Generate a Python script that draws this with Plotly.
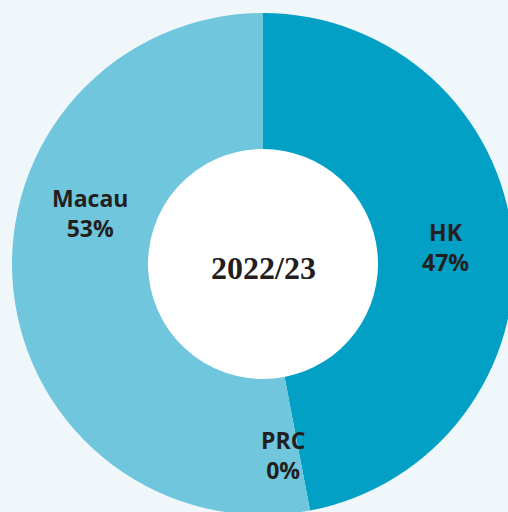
import plotly.graph_objects as go

labels = ["HK", "PRC", "Macau"]
values = [47, 0, 53]
colors = ["#03a0c6", "#03a0c6", "#6fc6dd"]
center_label = "2022/23"

W, H = 526, 528
CX, CY, R_OUT, R_IN = 263, 264, 251, 115
# label anchor positions in pixels (from top-left)
label_pos = {"HK": (445, 247), "PRC": (283, 455), "Macau": (90, 213)}

total = sum(values)
fig = go.Figure(go.Pie(
    labels=labels, values=values, hole=R_IN / R_OUT, sort=False,
    direction="clockwise", rotation=0, textinfo="none",
    marker=dict(colors=colors, line=dict(width=0)),
    domain=dict(x=[(CX - R_OUT) / W, (CX + R_OUT) / W],
                y=[1 - (CY + R_OUT) / H, 1 - (CY - R_OUT) / H]),
    showlegend=False, hoverinfo="label+percent",
))

anns = []
for lab, val in zip(labels, values):
    px, py = label_pos[lab]
    pct = round(100 * val / total)
    anns.append(dict(
        text=f"<b>{lab}</b><br><b>{pct}%</b>", x=px / W, y=1 - py / H,
        xref="paper", yref="paper", showarrow=False,
        xanchor="center", yanchor="middle",
        font=dict(family="Open Sans", size=23, color="#231f20"),
    ))
anns.append(dict(
    text=f"<b>{center_label}</b>", x=CX / W, y=1 - 268 / H,
    xref="paper", yref="paper", showarrow=False,
    xanchor="center", yanchor="middle",
    font=dict(family="Liberation Serif", size=32, color="#231f20"),
))

fig.update_layout(
    width=W, height=H, margin=dict(l=0, r=0, t=0, b=0),
    paper_bgcolor="#eff7fa", plot_bgcolor="#eff7fa",
    annotations=anns,
    shapes=[dict(type="circle", xref="paper", yref="paper", layer="below",
                 x0=(CX - R_IN) / W, x1=(CX + R_IN) / W,
                 y0=1 - (CY + R_IN) / H, y1=1 - (CY - R_IN) / H,
                 fillcolor="white", line=dict(width=0))],
)
fig.write_html("out.html", config={"displayModeBar": False},
               post_script="document.body.style.margin='0';document.body.style.overflow='hidden';")
